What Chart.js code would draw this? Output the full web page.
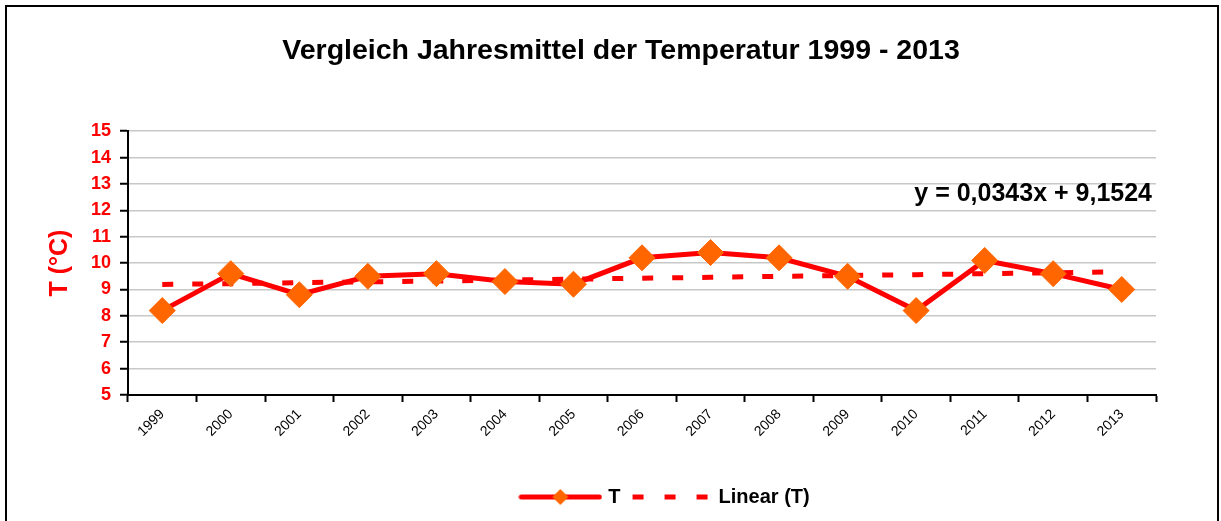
<!DOCTYPE html>
<html>
<head>
<meta charset="utf-8">
<script src="https://cdn.jsdelivr.net/npm/chart.js@4"></script>
<style>
  html, body { margin: 0; padding: 0; background: #fff; }
  #wrap { width: 1221px; height: 521px; position: relative; }
</style>
</head>
<body>
<div id="wrap"><canvas id="myChart"></canvas></div>
<script>
const years = ['1999', '2000', '2001', '2002', '2003', '2004', '2005', '2006', '2007', '2008', '2009', '2010', '2011', '2012', '2013'];
const temps = [8.2, 9.6, 8.8, 9.5, 9.6, 9.3, 9.2, 10.2, 10.4, 10.2, 9.5, 8.2, 10.1, 9.6, 9.0];
const trend = [9.19, 9.22, 9.26, 9.29, 9.32, 9.36, 9.39, 9.43, 9.46, 9.50, 9.53, 9.56, 9.60, 9.63, 9.67];
const trendLabel = 'y = 0,0343x + 9,1524';

// legend symbols
function lineIcon(dashed) {
  const c = document.createElement('canvas');
  c.width = 84; c.height = 20;
  const g = c.getContext('2d');
  g.strokeStyle = '#FF0000';
  g.lineWidth = 5;
  if (dashed) {
    g.setLineDash([11, 21]);
    g.beginPath(); g.moveTo(4, 10); g.lineTo(84, 10); g.stroke();
  } else {
    g.lineCap = 'round';
    g.beginPath(); g.moveTo(3, 10); g.lineTo(81, 10); g.stroke();
    g.fillStyle = '#FF6600';
    g.beginPath(); g.moveTo(42, 2); g.lineTo(50, 10); g.lineTo(42, 18); g.lineTo(34, 10); g.closePath(); g.fill();
  }
  return c;
}

const extras = {
  id: 'extras',
  afterLayout(chart) {
    // excel centres title and legend a bit further right
    if (chart.titleBlock) { chart.titleBlock.left += 23; chart.titleBlock.right += 23; }
    if (chart.legend) { chart.legend.left += 68; chart.legend.right += 68; }
  },
  beforeDraw(chart) {
    const c = chart.ctx;
    c.save();
    c.strokeStyle = '#000';
    c.lineWidth = 2;
    c.strokeRect(6, 6, 1212, 600);
    c.restore();
  },
  afterDatasetsDraw(chart) {
    const c = chart.ctx;
    c.save();
    c.font = 'bold 25px "Liberation Sans", Arial, sans-serif';
    c.fillStyle = '#000';
    c.textAlign = 'right';
    c.textBaseline = 'middle';
    c.fillText(trendLabel, chart.chartArea.right - 4, chart.scales.y.getPixelForValue(12.6));
    c.restore();
  }
};

Chart.defaults.font.family = '"Liberation Sans", Arial, sans-serif';

new Chart(document.getElementById('myChart'), {
  type: 'line',
  data: {
    labels: years,
    datasets: [{
      label: 'T',
      data: temps,
      borderColor: '#FF0000',
      borderWidth: 5,
      pointStyle: 'rectRot',
      pointRadius: 13,
      pointHoverRadius: 13,
      pointBackgroundColor: '#FF6600',
      pointBorderColor: '#FF6600',
      pointBorderWidth: 1,
      tension: 0,
      order: 1
    }, {
      label: 'Linear (T)',
      data: trend,
      borderColor: '#FF0000',
      borderWidth: 5,
      borderDash: [11, 19],
      pointRadius: 0,
      tension: 0,
      order: 2
    }]
  },
  options: {
    responsive: true,
    maintainAspectRatio: false,
    animation: false,
    layout: { padding: { left: 40, right: 65, top: 0, bottom: 4 } },
    plugins: {
      title: {
        display: true,
        text: 'Vergleich Jahresmittel der Temperatur 1999 - 2013',
        color: '#000',
        font: { size: 28.5, weight: 'bold' },
        padding: { top: 34, bottom: 63 }
      },
      legend: {
        position: 'bottom',
        labels: {
          color: '#000',
          font: { size: 20, weight: 'bold' },
          usePointStyle: true,
          pointStyleWidth: 76,
          padding: 12,
          generateLabels(chart) {
            return chart.data.datasets.map((ds, i) => ({
              text: ds.label,
              fontColor: '#000',
              pointStyle: lineIcon(i === 1),
              datasetIndex: i,
              hidden: false,
              lineWidth: 0,
              strokeStyle: 'transparent',
              fillStyle: 'transparent'
            }));
          }
        }
      },
      tooltip: { enabled: false }
    },
    scales: {
      x: {
        offset: true,
        grid: { offset: true, drawOnChartArea: false, tickColor: '#000', tickLength: 7, tickWidth: 2 },
        border: { color: '#000', width: 2 },
        ticks: { color: '#000', font: { size: 14 }, maxRotation: 45, minRotation: 45, padding: 4 },
        afterFit(scale) { scale.height = 80; }
      },
      y: {
        min: 5,
        max: 15,
        ticks: { stepSize: 1, color: '#FF0000', font: { size: 18, weight: 'bold' }, padding: 9 },
        grid: { color: '#C8C8C8', lineWidth: 1.5, tickColor: '#000', tickLength: 8, tickWidth: 2 },
        border: { color: '#000', width: 2 },
        title: { display: true, text: 'T (°C)', color: '#FF0000', font: { size: 25, weight: 'bold' }, padding: { top: 5, bottom: 0 } },
        afterFit(scale) { scale.width = 88; }
      }
    }
  },
  plugins: [extras]
});
</script>
</body>
</html>
